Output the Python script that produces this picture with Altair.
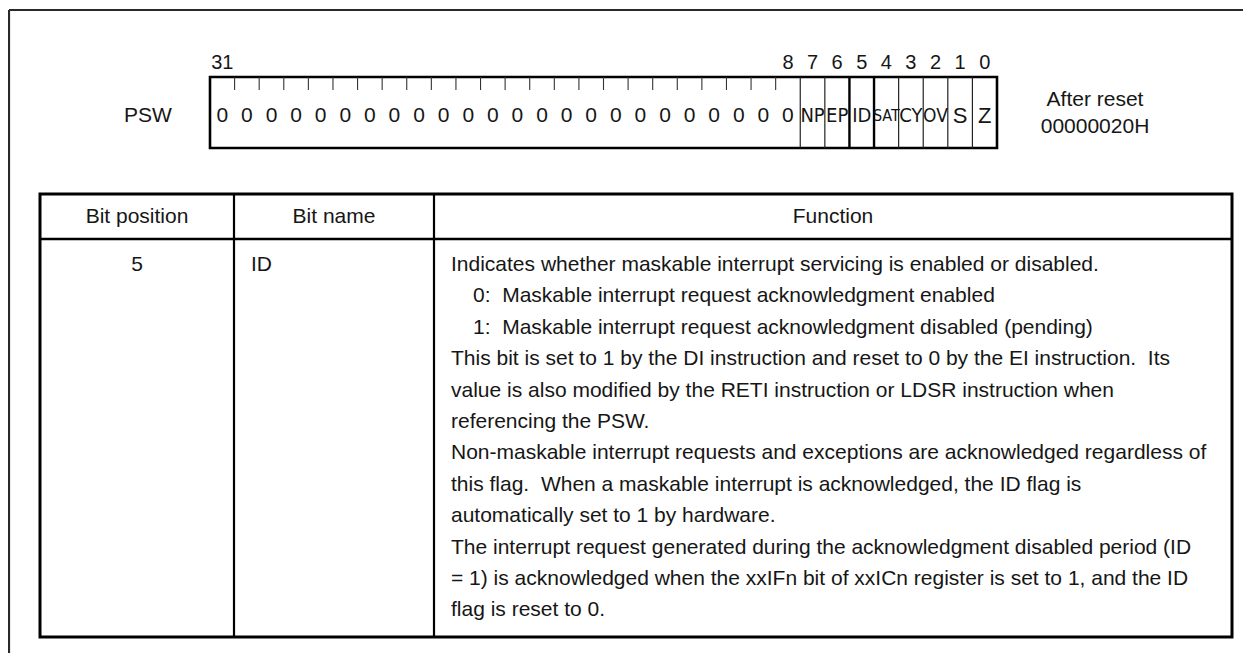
import altair as alt
import pandas as pd

# ---------------- data ----------------
register_name = "PSW"
reset_lines = ["After reset", "00000020H"]
bit_order = [31, 30, 29, 28, 27, 26, 25, 24, 23, 22, 21, 20, 19, 18, 17, 16,
             15, 14, 13, 12, 11, 10, 9, 8, 7, 6, 5, 4, 3, 2, 1, 0]
bit_cells = ["0", "0", "0", "0", "0", "0", "0", "0", "0", "0", "0", "0",
             "0", "0", "0", "0", "0", "0", "0", "0", "0", "0", "0", "0",
             "NP", "EP", "ID", "SAT", "CY", "OV", "S", "Z"]
numbered_bits = [31, 8, 7, 6, 5, 4, 3, 2, 1, 0]
headers = ["Bit position", "Bit name", "Function"]
row_position = "5"
row_name = "ID"
function_lines = [
    "Indicates whether maskable interrupt servicing is enabled or disabled.",
    "0:\u00a0 Maskable interrupt request acknowledgment enabled",
    "1:\u00a0 Maskable interrupt request acknowledgment disabled (pending)",
    "This bit is set to 1 by the DI instruction and reset to 0 by the EI instruction.\u00a0 Its",
    "value is also modified by the RETI instruction or LDSR instruction when",
    "referencing the PSW.",
    "Non-maskable interrupt requests and exceptions are acknowledged regardless of",
    "this flag.\u00a0 When a maskable interrupt is acknowledged, the ID flag is",
    "automatically set to 1 by hardware.",
    "The interrupt request generated during the acknowledgment disabled period (ID",
    "= 1) is acknowledged when the xxIFn bit of xxICn register is set to 1, and the ID",
    "flag is reset to 0.",
]

# ---------------- layout / style ----------------
W, H = 1235, 645
OFF = 8
INK = "#161616"
FONT = "Liberation Sans, Arial, Helvetica, sans-serif"
NARROW = "Liberation Sans Narrow, DejaVu Sans Condensed, Liberation Sans, sans-serif"
FS = 21

REG_L, REG_R, REG_T, REG_B = 210, 997, 77, 148
BW = (REG_R - REG_L) / 32
TICK_LEN = 13
CELL_Y = 116
NUM_Y = 63

TBL_L, TBL_R, TBL_T, TBL_B = 40, 1232, 194, 637
HDR_B = 239
COL1, COL2 = 234, 434
HDR_Y = 217
ROW_Y0 = 265
ROW_DY = 31.4
TXT_X = 451
TXT_INDENT = 473

xs = alt.Scale(domain=[0, W], nice=False, zero=False)
ys = alt.Scale(domain=[0, H], nice=False, zero=False, reverse=True)


def p(v):
    return v - OFF


def enc_xy(extra=None):
    e = dict(x=alt.X("x:Q", scale=xs, axis=None),
             y=alt.Y("y:Q", scale=ys, axis=None))
    if extra:
        e.update(extra)
    return e


def rules(df, width, color="black"):
    return alt.Chart(df).mark_rule(strokeWidth=width, color=color).encode(
        **enc_xy(dict(x2=alt.X2("x2:Q"), y2=alt.Y2("y2:Q"))))


def box(x0, y0, x1, y1, width, color="black"):
    df = pd.DataFrame([dict(x=p(x0), x2=p(x1), y=p(y0), y2=p(y1))])
    return alt.Chart(df).mark_rect(fillOpacity=0, stroke=color, strokeWidth=width).encode(
        **enc_xy(dict(x2=alt.X2("x2:Q"), y2=alt.Y2("y2:Q"))))


def texts(df, size, align="center", font=FONT):
    return alt.Chart(df).mark_text(align=align, baseline="middle", fontSize=size,
                                   font=font, color=INK).encode(
        **enc_xy(dict(text=alt.Text("t:N"))))


def bit_left(bit):
    return REG_L + (31 - bit) * BW


layers = []

# outer frame (top + left edges, continuing off the page)
frame = pd.DataFrame([
    dict(x=p(9), x2=p(1260), y=p(10), y2=p(10)),
    dict(x=p(9), x2=p(9), y=p(10), y2=p(680)),
])
layers.append(rules(frame, 2.2, "#2a2a2a"))

# register box
layers.append(box(REG_L, REG_T, REG_R, REG_B, 2.6))

# short ticks between constant zero bits
tick_rows = []
for b in bit_order[1:24]:
    x = bit_left(b)
    tick_rows.append(dict(x=p(x), x2=p(x), y=p(REG_T), y2=p(REG_T + TICK_LEN)))
layers.append(rules(pd.DataFrame(tick_rows), 1.1, "#333333"))

# full-height dividers around named bits
thin_rows, thick_rows = [], []
for b in bit_order[24:]:
    x = bit_left(b)
    row = dict(x=p(x), x2=p(x), y=p(REG_T), y2=p(REG_B))
    (thick_rows if b in (5, 4) else thin_rows).append(row)
layers.append(rules(pd.DataFrame(thin_rows), 1.2, "#222222"))
layers.append(rules(pd.DataFrame(thick_rows), 2.4, "black"))

# cell contents
name_style = {"NP": (20, NARROW), "EP": (20, NARROW), "ID": (20, NARROW),
              "SAT": (16, NARROW), "CY": (20, NARROW), "OV": (19, NARROW),
              "S": (22, FONT), "Z": (22, FONT)}
zero_rows = []
for b, c in zip(bit_order, bit_cells):
    cx = bit_left(b) + BW / 2
    if c in name_style:
        size, font = name_style[c]
        layers.append(texts(pd.DataFrame([dict(x=p(cx), y=p(CELL_Y), t=c)]), size, font=font))
    else:
        zero_rows.append(dict(x=p(cx), y=p(CELL_Y), t=c))
layers.append(texts(pd.DataFrame(zero_rows), FS))

# bit numbers above
num_rows = [dict(x=p(bit_left(b) + BW / 2), y=p(NUM_Y), t=str(b)) for b in numbered_bits]
layers.append(texts(pd.DataFrame(num_rows), 20))

# register name and reset value
layers.append(texts(pd.DataFrame([dict(x=p(148), y=p(116), t=register_name)]), FS))
layers.append(texts(pd.DataFrame([dict(x=p(1095), y=p(100), t=reset_lines[0]),
                                  dict(x=p(1095), y=p(127), t=reset_lines[1])]), FS))

# table
layers.append(box(TBL_L, TBL_T, TBL_R, TBL_B, 3))
layers.append(rules(pd.DataFrame([dict(x=p(TBL_L), x2=p(TBL_R), y=p(HDR_B), y2=p(HDR_B))]), 2.6))
layers.append(rules(pd.DataFrame([dict(x=p(COL1), x2=p(COL1), y=p(TBL_T), y2=p(TBL_B)),
                                  dict(x=p(COL2), x2=p(COL2), y=p(TBL_T), y2=p(TBL_B))]), 2.2))

hdr_x = [(TBL_L + COL1) / 2, (COL1 + COL2) / 2, (COL2 + TBL_R) / 2]
layers.append(texts(pd.DataFrame([dict(x=p(hx), y=p(HDR_Y), t=h) for hx, h in zip(hdr_x, headers)]), FS))
layers.append(texts(pd.DataFrame([dict(x=p(hdr_x[0]), y=p(ROW_Y0), t=row_position)]), FS))
layers.append(texts(pd.DataFrame([dict(x=p(251), y=p(ROW_Y0), t=row_name)]), FS, align="left"))

fn_rows = []
for i, ln in enumerate(function_lines):
    indent = ln[:2] in ("0:", "1:")
    fn_rows.append(dict(x=p(TXT_INDENT if indent else TXT_X), y=p(ROW_Y0 + i * ROW_DY), t=ln))
layers.append(texts(pd.DataFrame(fn_rows), FS, align="left"))

chart = alt.layer(*layers).properties(
    width=W, height=H, padding=0,
    autosize=alt.AutoSizeParams(type="none"),
    background="white",
).configure_view(stroke=None)

chart.save("out.html", embed_options={"renderer": "svg", "actions": False})
